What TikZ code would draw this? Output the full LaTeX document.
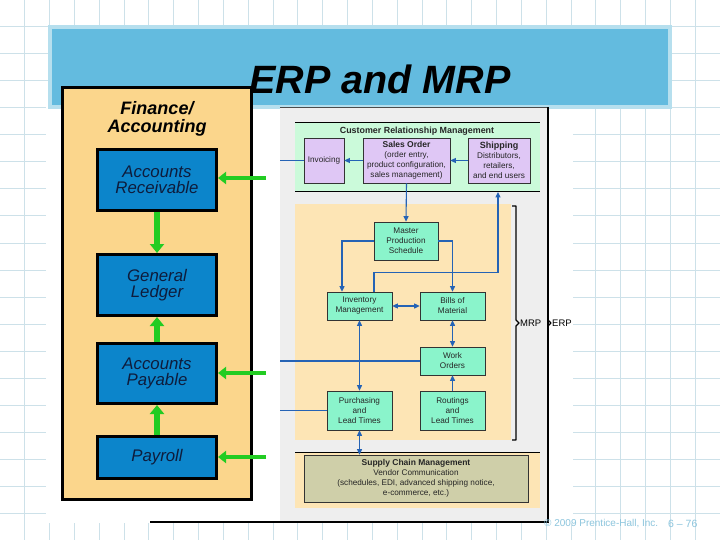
\documentclass[tikz,border=0pt]{standalone}
\usepackage{fontspec}
\setmainfont{Liberation Sans}
\usetikzlibrary{arrows.meta}
\definecolor{gridc}{HTML}{CDE1E9}
\definecolor{titlebar}{HTML}{63BBDF}
\definecolor{titleedge}{HTML}{B6DFEE}
\definecolor{finfill}{HTML}{FBD68C}
\definecolor{bluebox}{HTML}{0C85CB}
\definecolor{boxtext}{HTML}{0E1C3C}
\definecolor{garrowc}{HTML}{22CC22}
\definecolor{imggray}{HTML}{EEEEEE}
\definecolor{crmgreen}{HTML}{CBFADA}
\definecolor{lav}{HTML}{DFC7F5}
\definecolor{aqua}{HTML}{8AF4CB}
\definecolor{peach}{HTML}{FDE5B5}
\definecolor{olive}{HTML}{CFCFA9}
\definecolor{linblue}{HTML}{2563B5}
\definecolor{footc}{HTML}{8CC5DD}
\tikzset{
  gridline/.style={draw=gridc, line width=1},
  finbox/.style={draw=black, line width=3, fill=finfill, inner sep=0},
  bbox/.style={draw=black, line width=3, fill=bluebox, inner sep=0, minimum width=119, align=center, text=boxtext, font=\fontsize{16.8}{16.5}\selectfont\itshape},
  garrow/.style={draw=garrowc, line width=4.5, -{Triangle[length=8,width=12]}},
  gvarrow/.style={draw=garrowc, line width=6, -{Triangle[length=9,width=14]}},
  rbox/.style={draw=black!80, line width=0.7, inner sep=0, align=center, text=black!85, font=\fontsize{8.2}{10}\selectfont},
  bline/.style={draw=linblue, line width=1.1},
  barrow/.style={draw=linblue, line width=1.1, -{Triangle[length=5.5,width=5]}},
  bdarrow/.style={draw=linblue, line width=1.1, {Triangle[length=5.5,width=5]}-{Triangle[length=5.5,width=5]}},
  brlabel/.style={anchor=west, inner sep=1, font=\fontsize{9.5}{10}\selectfont}
}
\begin{document}
\begin{tikzpicture}[x=1pt,y=-1pt]
\useasboundingbox (0,0) rectangle (720,540);
\fill[white] (0,0) rectangle (720,540);
% grid
\foreach \i in {1,...,28} \draw[gridline] (\i*24.83,0) -- (\i*24.83,540);
\foreach \j in {1,...,19} \draw[gridline] (0,\j*27) -- (720,\j*27);
\fill[white] (46,103) rectangle (573,523);
% title bar
\fill[titleedge] (48,25) rectangle (672,109);
\fill[titlebar] (52,29) rectangle (668,105);
\node[font=\fontsize{39.5}{40}\selectfont\bfseries\itshape, inner sep=0] (title) at (380,79.5) {ERP and MRP};
% finance box
\node[finbox, minimum width=189, minimum height=412] (fin) at (157,293.5) {};
\node[font=\fontsize{18}{18.5}\selectfont\bfseries\itshape, align=center, inner sep=0] (fint) at (157,119) {Finance/\\Accounting};
\node[bbox, minimum height=61] (ar) at (157,180) {Accounts\\Receivable};
\node[bbox, minimum height=61] (gl) at (157,285) {General\\Ledger};
\node[bbox, minimum height=60] (ap) at (157,373.5) {Accounts\\Payable};
\node[bbox, minimum height=42] (pay) at (157,457.5) {Payroll};
\coordinate (g1) at (266,178);
\coordinate (g2) at (266,373);
\coordinate (g3) at (266,457);
\draw[garrow] (g1) -- (g1 -| ar.east);
\draw[garrow] (g2) -- (g2 -| ap.east);
\draw[garrow] (g3) -- (g3 -| pay.east);
\draw[gvarrow] (ar.south) -- (gl.north);
\draw[gvarrow] (ap.north) -- (gl.south);
\draw[gvarrow] (pay.north) -- (ap.south);
% right picture
\fill[imggray] (280,107) rectangle (548,522);
\draw[black!70, line width=0.8] (280,107) -- (548,107);
% CRM band
\fill[crmgreen] (295,122) rectangle (540,191);
\draw[black, line width=0.8] (295,122) -- (540,122);
\draw[black, line width=0.8] (295,191) -- (540,191);
\node[font=\fontsize{8.9}{9}\selectfont\bfseries, text=black!85, inner sep=0] (crmt) at (417,131) {Customer Relationship Management};
\node[rbox, fill=lav, minimum width=40, minimum height=45] (inv) at (324,160.5) {Invoicing};
\node[rbox, fill=lav, minimum width=87, minimum height=45] (so) at (406.5,160.5) {{\fontsize{8.5}{10}\selectfont\textbf{Sales Order}}\\(order entry,\\product configuration,\\sales management)};
\node[rbox, fill=lav, minimum width=62, minimum height=45] (ship) at (499,160.5) {{\fontsize{9}{10}\selectfont\textbf{Shipping}}\\Distributors,\\retailers,\\and end users};
% MRP area
\fill[peach] (295,204) rectangle (511,440);
\node[rbox, fill=aqua, minimum width=64, minimum height=38] (mps) at (406,241) {Master\\Production\\Schedule};
\node[rbox, fill=aqua, minimum width=65, minimum height=28] (im) at (359.5,306) {Inventory\\Management};
\node[rbox, fill=aqua, minimum width=65, minimum height=28] (bom) at (452.5,306) {Bills of\\Material};
\node[rbox, fill=aqua, minimum width=65, minimum height=28] (wo) at (452.5,361) {Work\\Orders};
\node[rbox, fill=aqua, minimum width=65, minimum height=39] (pur) at (359.5,410.5) {Purchasing\\and\\Lead Times};
\node[rbox, fill=aqua, minimum width=65, minimum height=39] (rout) at (452.5,410.5) {Routings\\and\\Lead Times};
% SCM band
\fill[peach] (295,452) rectangle (540,508);
\draw[black, line width=0.8] (295,452) -- (540,452);
\node[rbox, fill=olive, minimum width=224, minimum height=47] (scm) at (416,478.5) {{\fontsize{8.5}{10}\selectfont\textbf{Supply Chain Management}}\\Vendor Communication\\(schedules, EDI, advanced shipping notice,\\e-commerce, etc.)};
% connectors
\coordinate (l1) at (280,160.5);
\coordinate (l2) at (280,361);
\coordinate (l3) at (280,410.5);
\coordinate (c1) at (498,192);
\draw[bline] (l1) -- (inv.west);
\draw[bline] (l2) -- (wo.west);
\draw[bline] (l3) -- (pur.west);
\draw[barrow] (so.west) -- (inv.east);
\draw[barrow] (ship.west) -- (so.east);
\draw[barrow] (so.south) -- (mps.north);
\draw[barrow] (mps.west) -| ([xshift=-17.5]im.north);
\draw[barrow] (mps.east) -| (bom.north);
\draw[barrow] ([xshift=14.5]im.north) -- ++(0,-19) -| (c1);
\draw[bdarrow] (im.east) -- (bom.west);
\draw[bdarrow] (im.south) -- (pur.north);
\draw[bdarrow] (bom.south) -- (wo.north);
\draw[barrow] (rout.north) -- (wo.south);
\draw[bdarrow] (pur.south) -- (pur.south |- scm.north);
% brackets
\draw[black, line width=1.4, line join=round] (512,206) -- (516,206) -- (516,320) -- (519,323) -- (516,326) -- (516,440) -- (512,440);
\node[brlabel] (mrp) at (519,323) {MRP};
\draw[black, line width=2.6] (548,205) -- (548,363);
\draw[black, line width=1.2, line join=round] (548,320) -- (551,323) -- (548,326);
\node[brlabel] (erp) at (551,323) {ERP};
% picture border
\draw[black, line width=1.5] (548,107) -- (548,522);
\draw[black, line width=2] (150,522) -- (549,522);
% footer
\node[anchor=west, inner sep=0, text=footc, font=\fontsize{10}{12}\selectfont] (copy) at (544,524) {© 2009 Prentice-Hall, Inc.};
\node[anchor=west, inner sep=0, text=footc, font=\fontsize{10.5}{12}\selectfont] (pg) at (668,524) {6 – 76};
\end{tikzpicture}
\end{document}
